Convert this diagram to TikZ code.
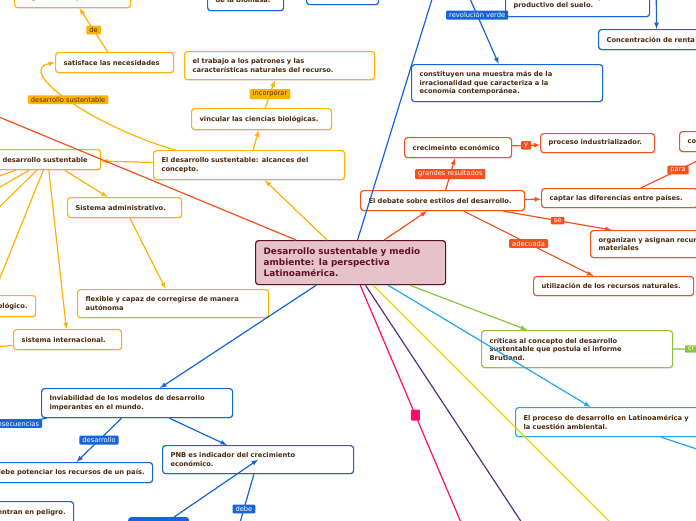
\documentclass[tikz,border=0pt]{standalone}
\usepackage{fontspec}
\setmainfont{DejaVu Sans}
\usetikzlibrary{positioning, arrows, shadows}

\definecolor{ora}{HTML}{FFB300}
\definecolor{rd}{HTML}{F4511E}
\definecolor{blu}{HTML}{1565D8}
\definecolor{grn}{HTML}{8CC43F}
\definecolor{cya}{HTML}{1FA9E8}
\definecolor{ylw}{HTML}{F0D400}
\definecolor{pur}{HTML}{5B2C83}
\definecolor{pnk}{HTML}{FF0A6E}
\definecolor{txt}{HTML}{4B2A0E}
\definecolor{mar}{HTML}{5E1028}
\definecolor{rosa}{HTML}{E6C3CB}

\tikzset{
  box/.style={draw, fill=white, rounded corners=3pt, line width=1.2pt,
    inner xsep=8pt, inner ysep=2pt, align=left, anchor=north west, text=txt,
    font=\bfseries\fontsize{6.7}{8.6}\selectfont,
    drop shadow={opacity=0.2, shadow xshift=0.6pt, shadow yshift=-1pt}},
  obox/.style={box, draw=ora},
  rbox/.style={box, draw=rd},
  bbox/.style={box, draw=blu},
  gbox/.style={box, draw=grn},
  cbox/.style={box, draw=cya},
  lab/.style={rounded corners=1pt, inner xsep=3pt, inner ysep=1.8pt,
    font=\fontsize{6.7}{7.5}\selectfont, text=white},
  olab/.style={lab, fill=ora, text=txt},
  rlab/.style={lab, fill=rd},
  blab/.style={lab, fill=blu},
  glab/.style={lab, fill=grn},
  oline/.style={draw=ora, line width=1.2pt},
  rline/.style={draw=rd, line width=1.2pt},
  bline/.style={draw=blu, line width=1.2pt},
}

\begin{document}
\begin{tikzpicture}[x=1pt, y=-1pt, >=latex]
\useasboundingbox (0,0) rectangle (696,520);
\fill[white] (0,0) rectangle (696,520);
\clip (0,0) rectangle (696,520);

% centre
\node[box, draw=mar, fill=rosa, text=mar, font=\bfseries\fontsize{8.9}{11}\selectfont,
  text width=174pt, minimum height=44pt] (central) at (255,240)
  {Desarrollo sustentable y medio\\ambiente: la perspectiva\\Latinoamérica.};

% orange branch
\node[obox, text width=100pt, minimum height=20pt] (genpres) at (14,-13) {la generación presente.};
\node[obox, text width=102pt, minimum height=20pt] (satisface) at (55,52) {satisface las necesidades};
\node[obox, text width=174pt, minimum height=28pt] (trabajo) at (184,51)
  {el trabajo a los patrones y las\\características naturales del recurso.};
\node[obox, text width=124pt, minimum height=21pt] (vincular) at (191,108) {vincular las ciencias biológicas.};
\node[obox, text width=175pt, minimum height=29pt] (alcances) at (153,150)
  {El desarrollo sustentable: alcances del\\concepto.};
\node[obox, text width=90pt, minimum height=20pt] (dsust) at (-6,149) {desarrollo sustentable};
\node[obox, text width=98pt, minimum height=20pt] (sisadm) at (67,197) {Sistema administrativo.};
\node[obox, text width=175pt, minimum height=28pt] (flexible) at (77,289)
  {flexible y capaz de corregirse de manera\\autónoma};
\node[obox, align=right, text width=78pt, minimum height=21pt] (ologico) at (-59,295) {ológico.};
\node[obox, text width=92pt, minimum height=20pt] (sisint) at (13,329) {sistema internacional.};

% red branch
\node[rbox, text width=148pt, minimum height=20pt] (debate) at (360,190) {El debate sobre estilos del desarrollo.};
\node[rbox, text width=91pt, minimum height=20pt] (crec) at (404,137) {crecimeinto económico};
\node[rbox, text width=98pt, minimum height=19pt] (proceso) at (540,133) {proceso industrializador.};
\node[rbox, text width=140pt, minimum height=19pt] (captar) at (541,188) {captar las diferencias entre países.};
\node[rbox, text width=100pt, minimum height=20pt] (cobox) at (679,131) {co};
\node[rbox, text width=188pt, minimum height=27pt] (organizan) at (590,230)
  {organizan y asignan recursos\\materiales};
\node[rbox, text width=144pt, minimum height=19pt] (utiliz) at (533,276) {utilización de los recursos naturales.};

% blue branch
\node[bbox, text width=60pt, minimum height=22pt] (biomasa) at (207,-12) {de la biomasa.};
\node[bbox, text width=56pt, minimum height=20pt] (topbox) at (306,-16) {};
\node[bbox, text width=128pt, minimum height=30pt] (suelo) at (505,-14)
  {Pérdida acelerada del potencial\\productivo del suelo.};
\node[bbox, text width=100pt, minimum height=20pt] (concent) at (598,29) {Concentración de renta};
\node[bbox, text width=175pt, minimum height=37pt] (constituyen) at (411,64)
  {constituyen una muestra más de la\\irracionalidad que caracteriza a la\\economía contemporánea.};
\node[bbox, text width=175pt, minimum height=29pt] (inviab) at (41,388)
  {Inviabilidad de los modelos de desarrollo\\imperantes en el mundo.};
\node[bbox, align=right, text width=158pt, minimum height=20pt] (potenciar) at (-22,462)
  {debe potenciar los recursos de un país.};
\node[bbox, align=right, text width=117pt, minimum height=22pt] (peligro) at (-60,501) {encuentran en peligro.};
\node[bbox, text width=175pt, minimum height=28pt] (pnb) at (162,445)
  {PNB es indicador del crecimiento\\económico.};
\node[box, draw=blu, fill=blu, text width=44pt, minimum height=20pt] (fondo) at (128,517) {};

% green and cyan
\node[gbox, text width=175pt, minimum height=37pt] (criticas) at (481,330)
  {críticas al concepto del desarrollo\\sustentable que postula el informe\\Brutland.};
\node[cbox, text width=184pt, minimum height=29pt] (proclat) at (515,407)
  {El proceso de desarrollo en Latinoamérica y\\la cuestión ambiental.};
\node[glab, anchor=west, text width=24pt] (crlab) at (685,349) {cr};

% free ends
\coordinate (rojoend) at (-100,76);
\coordinate (azulend) at (441,-30);
\coordinate (revtop) at (453,-40);
\coordinate (renttop) at (656,-40);
\coordinate (consec) at (-100,442.7);
\coordinate (debeend) at (229.5,559);
\coordinate (procend) at (760,470);
\coordinate (dsa) at (-60,196);
\coordinate (dsb) at (-40,210);
\coordinate (dsc) at (-40,246);
\coordinate (sisend) at (-60,353);

% orange connectors
\draw[oline, ->] (central) -- (alcances);
\draw[oline, ->] (alcances) -- (vincular);
\draw[oline, ->] (vincular) -- node[olab] {incorporar} (trabajo);
\draw[oline, ->] (alcances) -- (dsust);
\draw[oline, ->] ([xshift=22pt]alcances.north west) .. controls (90,125) and (15,70)
  .. node[olab] {desarrollo sustentable} (satisface.west);
\draw[oline, ->] (satisface) -- node[olab] {de} (genpres);
\draw[oline, ->] (dsust) -- (sisadm);
\draw[oline, ->] (dsust) -- (sisint);
\draw[oline, ->] (dsust) -- (ologico);
\draw[oline, ->] (sisadm) -- (flexible);
\foreach \e in {dsa, dsb, dsc}
  \draw[oline] (dsust) -- (\e);
\draw[oline] (sisint) -- (sisend);

% red connectors
\draw[rline, ->] (central) -- (debate);
\draw[rline] (central) -- (rojoend);
\draw[rline, ->] (debate) -- node[rlab] {grandes resultados} (crec);
\draw[rline, ->] (crec) -- node[rlab] {y} (proceso);
\draw[rline, ->] (debate) -- (captar);
\draw[rline, ->] (captar) -- node[rlab] {para} (cobox);
\draw[rline, ->] (debate) -- node[rlab] {se} (organizan);
\draw[rline, ->] (debate) -- node[rlab] {adecuada} (utiliz);

% blue connectors
\draw[bline] (central) -- (azulend);
\draw[bline, ->] (revtop) -- node[blab, pos=0.53] {revolución verde} (constituyen);
\draw[bline, ->] (renttop) -- (concent);
\draw[bline, ->] (central) -- (inviab);
\draw[bline, ->] (inviab) -- node[blab, pos=0.22] {consecuencias} (consec);
\draw[bline, ->] (inviab) -- node[blab] {desarrollo} (potenciar);
\draw[bline, ->] (inviab) -- (pnb);
\draw[bline, ->] (fondo) -- (pnb.center);
\draw[bline, ->] (pnb) -- node[blab, pos=0.41] {debe} (debeend);

% green, cyan and the long ones
\draw[draw=grn, line width=1.2pt, ->] (central) -- (criticas);
\draw[draw=grn, line width=1.2pt] (criticas) -- (crlab);
\draw[draw=cya, line width=1.2pt, ->] (central) -- (proclat);
\draw[draw=cya, line width=1.2pt] (proclat) -- (procend);
\foreach \c/\p in {ylw/{(633,545)}, pur/{(536.5,545)}}
  \draw[draw=\c, line width=1.2pt] (central) -- \p;
\draw[draw=pnk, line width=1.2pt] (central) -- node[fill=pnk, inner sep=0pt,
  minimum width=9pt, minimum height=11pt, rounded corners=1pt] {} (470.6,545);
\end{tikzpicture}
\end{document}
